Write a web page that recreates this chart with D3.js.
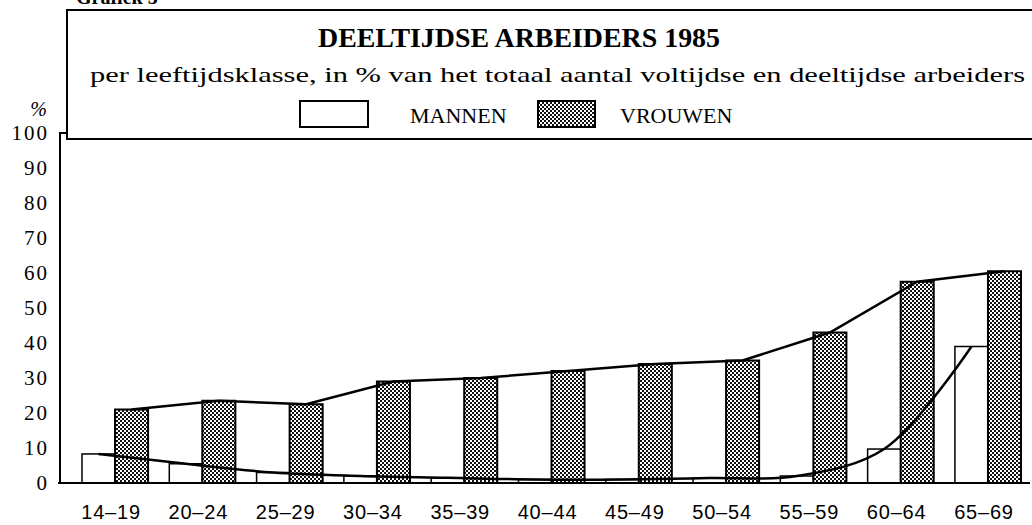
<!DOCTYPE html>
<html>
<head>
<meta charset="utf-8">
<script src="https://cdn.jsdelivr.net/npm/d3@7"></script>
<style>
  body { margin: 0; background: #fff; }
  #chart { width: 1032px; height: 525px; }
</style>
</head>
<body>
<div id="chart"></div>
<script>
let categories = ["14–19", "20–24", "25–29", "30–34", "35–39", "40–44", "45–49", "50–54", "55–59", "60–64", "65–69"];
let mannen = [8.3, 5.5, 3, 2, 1.5, 1, 1, 1.4, 2, 9.7, 39];
let vrouwen = [21, 23.5, 22.5, 29, 30, 32, 34, 35, 43, 57.5, 60.5];
let yTicks = [0, 10, 20, 30, 40, 50, 60, 70, 80, 90, 100];

let drawChart = function() {
    let w = 1032, h = 525;
    let serif = "'Liberation Serif', 'Times New Roman', serif",
        sans = "'Liberation Sans', Arial, sans-serif";

    let svg = d3.select("#chart")
      .append("svg")
        .attr("width", w)
        .attr("height", h);

    // checkered raster used for the women's bars
    let pat = svg.append("defs").append("pattern")
        .attr("id", "hatch")
        .attr("patternUnits", "userSpaceOnUse")
        .attr("width", 4)
        .attr("height", 4);
    pat.append("rect").attr("width", 4).attr("height", 4).attr("fill", "#fff");
    pat.append("rect").attr("width", 2).attr("height", 2).attr("fill", "#111");
    pat.append("rect").attr("x", 2).attr("y", 2).attr("width", 2).attr("height", 2).attr("fill", "#111");

    let x = d3.scaleBand()
        .domain(categories)
        .range([82, 1021])
        .paddingInner(0.243)
        .paddingOuter(0);
    let y = d3.scaleLinear()
        .domain([0, 100])
        .range([483, 133]);
    let half = x.bandwidth() / 2;

    // heading of the page, cut off at the top in the scan
    svg.append("text")
        .attr("x", 76)
        .attr("y", 4)
        .attr("font-family", serif)
        .attr("font-weight", "bold")
        .attr("font-size", 20)
        .text("Grafiek 5");

    // title box
    svg.append("path")
        .attr("d", "M1040,10 H67 V139 H1040")
        .attr("fill", "none")
        .attr("stroke", "#000")
        .attr("stroke-width", 2);

    svg.append("text")
        .attr("x", 318)
        .attr("y", 47)
        .attr("font-family", serif)
        .attr("font-weight", "bold")
        .attr("font-size", 28)
        .attr("textLength", 402)
        .attr("lengthAdjust", "spacingAndGlyphs")
        .text("DEELTIJDSE ARBEIDERS 1985");

    svg.append("text")
        .attr("x", 90)
        .attr("y", 82)
        .attr("font-family", serif)
        .attr("font-size", 21)
        .attr("textLength", 935)
        .attr("lengthAdjust", "spacingAndGlyphs")
        .text("per leeftijdsklasse, in % van het totaal aantal voltijdse en deeltijdse arbeiders");

    // legend
    svg.append("rect")
        .attr("x", 300).attr("y", 101).attr("width", 68).attr("height", 26)
        .attr("fill", "#fff").attr("stroke", "#000").attr("stroke-width", 2);
    svg.append("text")
        .attr("x", 410).attr("y", 123)
        .attr("font-family", serif).attr("font-size", 22)
        .text("MANNEN");
    svg.append("rect")
        .attr("x", 538).attr("y", 101).attr("width", 57).attr("height", 26)
        .attr("fill", "url(#hatch)").attr("stroke", "#000").attr("stroke-width", 2);
    svg.append("text")
        .attr("x", 620).attr("y", 123)
        .attr("font-family", serif).attr("font-size", 22)
        .text("VROUWEN");

    // y axis
    let yAxis = d3.axisLeft(y)
        .tickValues(yTicks)
        .tickSize(0)
        .tickPadding(11);
    let gy = svg.append("g")
        .attr("transform", "translate(60,0)")
        .call(yAxis);
    gy.select(".domain").remove();
    gy.selectAll("text")
        .attr("font-family", serif)
        .attr("font-size", 21)
        .attr("letter-spacing", 2)
        .attr("fill", "#000");
    svg.append("path")
        .attr("d", "M60," + y(0) + " V" + y(100) + " H67")
        .attr("fill", "none")
        .attr("stroke", "#000")
        .attr("stroke-width", 2);
    svg.append("text")
        .attr("x", 47)
        .attr("y", 116)
        .attr("text-anchor", "end")
        .attr("font-family", serif)
        .attr("font-style", "italic")
        .attr("font-size", 20)
        .text("%");

    // bars
    svg.selectAll("rect.man")
        .data(mannen)
      .enter().append("rect")
        .attr("class", "man")
        .attr("x", function(d, i) { return x(categories[i]); })
        .attr("y", function(d) { return y(d); })
        .attr("width", half)
        .attr("height", function(d) { return y(0) - y(d); })
        .attr("fill", "#fff")
        .attr("stroke", "#000")
        .attr("stroke-width", 1.5);

    svg.selectAll("rect.vrouw")
        .data(vrouwen)
      .enter().append("rect")
        .attr("class", "vrouw")
        .attr("x", function(d, i) { return x(categories[i]) + half; })
        .attr("y", function(d) { return y(d); })
        .attr("width", half)
        .attr("height", function(d) { return y(0) - y(d); })
        .attr("fill", "url(#hatch)")
        .attr("stroke", "#000")
        .attr("stroke-width", 2);

    // trend lines through the bar tops
    let manLine = d3.line()
        .x(function(d, i) { return x(categories[i]) + half / 2; })
        .y(function(d) { return y(d); })
        .curve(d3.curveCatmullRom.alpha(0.5));
    let vrouwLine = d3.line()
        .x(function(d, i) { return x(categories[i]) + half * 1.5; })
        .y(function(d) { return y(d); })
        .curve(d3.curveLinear);

    svg.append("path")
        .attr("d", manLine(mannen))
        .attr("fill", "none")
        .attr("stroke", "#000")
        .attr("stroke-width", 2.5);
    svg.append("path")
        .attr("d", vrouwLine(vrouwen))
        .attr("fill", "none")
        .attr("stroke", "#000")
        .attr("stroke-width", 2.5);

    // x axis
    svg.append("line")
        .attr("x1", 58).attr("x2", 1030)
        .attr("y1", y(0)).attr("y2", y(0))
        .attr("stroke", "#000")
        .attr("stroke-width", 2);
    let xAxis = d3.axisBottom(x).tickSize(0).tickPadding(0);
    let gx = svg.append("g")
        .attr("transform", "translate(-4,519)")
        .call(xAxis);
    gx.select(".domain").remove();
    gx.selectAll("text")
        .attr("dy", 0)
        .attr("font-family", sans)
        .attr("font-size", 20)
        .attr("letter-spacing", 0.8)
        .attr("fill", "#000");
};

drawChart();
</script>
</body>
</html>
